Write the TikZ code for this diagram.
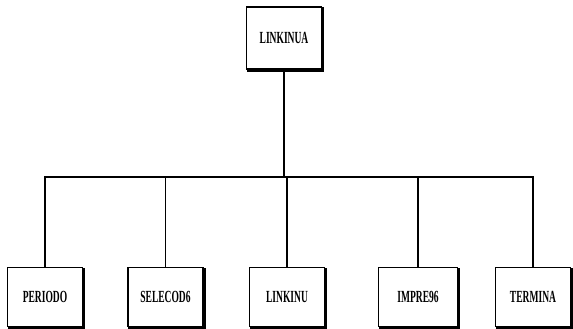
\documentclass[tikz,border=0pt]{standalone}
\usepackage{fontspec}
\setmainfont{Liberation Serif}
\newcommand{\lbl}[1]{\scalebox{0.56}[1]{\bfseries #1}}
\newcommand{\shad}[1]{\draw[line width=2pt, line cap=rect]
  ([xshift=1.2pt, yshift=-2pt]#1.north east) -- ([xshift=1.2pt, yshift=-1.2pt]#1.south east)
  -- ([xshift=2pt, yshift=-1.2pt]#1.south west);}
\begin{document}
\begin{tikzpicture}[x=1pt,y=-1pt,
  modbox/.style={draw=black, line width=1.4pt, fill=white, minimum width=75pt, minimum height=59pt,
    inner sep=0pt, font=\fontsize{17}{17}\selectfont},
  conn/.style={draw=black, line width=1.2pt}]
\useasboundingbox (0,0) rectangle (573,329);
\node[modbox, minimum height=62pt] (top) at (284,38) {\lbl{LINKINUA}};
\node[modbox] (p) at (45,297) {\lbl{PERIODO}};
\node[modbox] (s) at (165.5,297) {\lbl{SELECOD6}};
\node[modbox] (l) at (287,297) {\lbl{LINKINU}};
\node[modbox, minimum width=79pt] (i) at (418,297) {\lbl{IMPRE96}};
\node[modbox] (t) at (533,297) {\lbl{TERMINA}};
\shad{top}\shad{p}\shad{s}\shad{l}\shad{i}\shad{t}
\coordinate (bus) at (0,177);
\draw[conn] (top.south) -- (top.south |- bus);
\draw[conn] (p.north) -- (p.north |- bus) -- (t.north |- bus) -- (t.north);
\draw[conn] (s.north) -- (s.north |- bus);
\draw[conn] (l.north) -- (l.north |- bus);
\draw[conn] (i.north) -- (i.north |- bus);
\end{tikzpicture}
\end{document}
